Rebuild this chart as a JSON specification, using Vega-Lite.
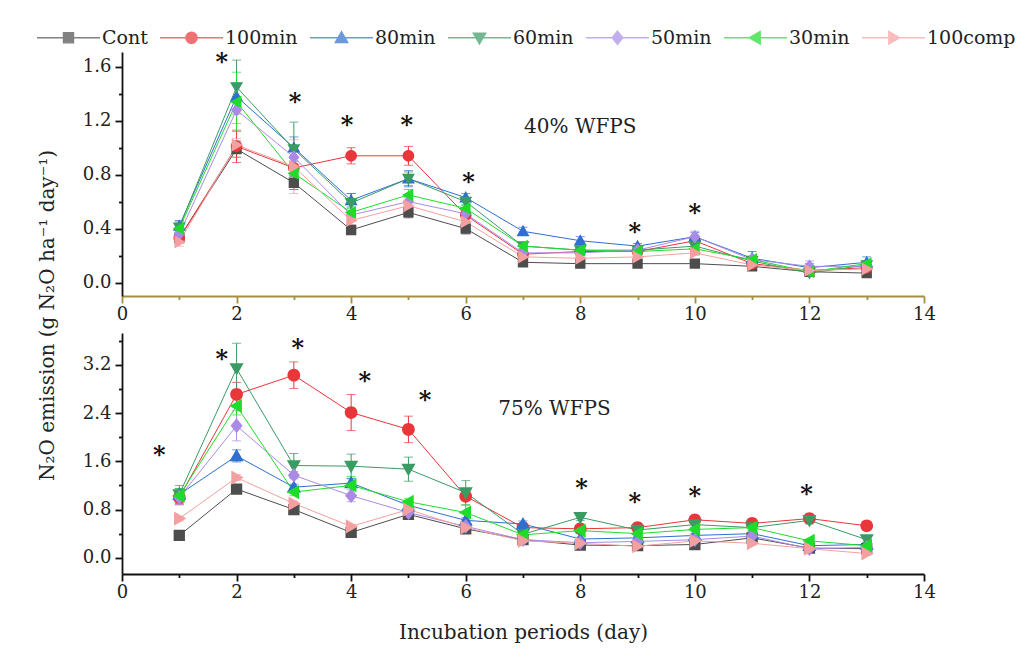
{
  "$schema": "https://vega.github.io/schema/vega-lite/v6.json",
  "background": "white",
  "padding": {"left": 36, "top": 5, "right": 4, "bottom": 4},
  "config": {
    "view": {"stroke": null},
    "font": "DejaVu Serif",
    "axis": {"labelFont": "DejaVu Serif", "labelFontSize": 18, "labelColor": "#222", "domainColor": "#111", "domainWidth": 1.8, "tickColor": "#111", "tickWidth": 1.8, "grid": false, "labelFlush": false, "labelOverlap": false, "titleFont": "DejaVu Serif", "titleFontWeight": "normal", "titleColor": "#222"},
    "legend": {"labelFont": "DejaVu Serif", "labelFontSize": 19, "labelColor": "#222"}
  },
  "datasets": {
    "wfps40": [
      {"day":1,"series":"Cont","value":0.33,"sd":0.03},{"day":2,"series":"Cont","value":0.99,"sd":0.06},{"day":3,"series":"Cont","value":0.74,"sd":0.05},{"day":4,"series":"Cont","value":0.39,"sd":0.03},{"day":5,"series":"Cont","value":0.52,"sd":0.04},{"day":6,"series":"Cont","value":0.40,"sd":0.04},{"day":7,"series":"Cont","value":0.15,"sd":0.02},{"day":8,"series":"Cont","value":0.14,"sd":0.02},{"day":9,"series":"Cont","value":0.14,"sd":0.02},{"day":10,"series":"Cont","value":0.14,"sd":0.02},{"day":11,"series":"Cont","value":0.12,"sd":0.02},{"day":12,"series":"Cont","value":0.08,"sd":0.02},{"day":13,"series":"Cont","value":0.07,"sd":0.02},
      {"day":1,"series":"100min","value":0.33,"sd":0.03},{"day":2,"series":"100min","value":1.01,"sd":0.12},{"day":3,"series":"100min","value":0.85,"sd":0.05},{"day":4,"series":"100min","value":0.94,"sd":0.06},{"day":5,"series":"100min","value":0.94,"sd":0.07},{"day":6,"series":"100min","value":0.50,"sd":0.03},{"day":7,"series":"100min","value":0.21,"sd":0.02},{"day":8,"series":"100min","value":0.23,"sd":0.02},{"day":9,"series":"100min","value":0.23,"sd":0.02},{"day":10,"series":"100min","value":0.31,"sd":0.03},{"day":11,"series":"100min","value":0.14,"sd":0.02},{"day":12,"series":"100min","value":0.09,"sd":0.02},{"day":13,"series":"100min","value":0.11,"sd":0.02},
      {"day":1,"series":"80min","value":0.42,"sd":0.04},{"day":2,"series":"80min","value":1.38,"sd":0.10},{"day":3,"series":"80min","value":1.00,"sd":0.08},{"day":4,"series":"80min","value":0.61,"sd":0.05},{"day":5,"series":"80min","value":0.77,"sd":0.06},{"day":6,"series":"80min","value":0.63,"sd":0.03},{"day":7,"series":"80min","value":0.38,"sd":0.03},{"day":8,"series":"80min","value":0.31,"sd":0.03},{"day":9,"series":"80min","value":0.27,"sd":0.02},{"day":10,"series":"80min","value":0.34,"sd":0.03},{"day":11,"series":"80min","value":0.18,"sd":0.05},{"day":12,"series":"80min","value":0.11,"sd":0.03},{"day":13,"series":"80min","value":0.15,"sd":0.04},
      {"day":1,"series":"60min","value":0.41,"sd":0.04},{"day":2,"series":"60min","value":1.45,"sd":0.20},{"day":3,"series":"60min","value":0.99,"sd":0.20},{"day":4,"series":"60min","value":0.59,"sd":0.07},{"day":5,"series":"60min","value":0.77,"sd":0.05},{"day":6,"series":"60min","value":0.60,"sd":0.03},{"day":7,"series":"60min","value":0.27,"sd":0.02},{"day":8,"series":"60min","value":0.24,"sd":0.02},{"day":9,"series":"60min","value":0.24,"sd":0.02},{"day":10,"series":"60min","value":0.27,"sd":0.02},{"day":11,"series":"60min","value":0.16,"sd":0.03},{"day":12,"series":"60min","value":0.07,"sd":0.02},{"day":13,"series":"60min","value":0.13,"sd":0.03},
      {"day":1,"series":"50min","value":0.36,"sd":0.03},{"day":2,"series":"50min","value":1.28,"sd":0.10},{"day":3,"series":"50min","value":0.93,"sd":0.06},{"day":4,"series":"50min","value":0.50,"sd":0.03},{"day":5,"series":"50min","value":0.60,"sd":0.03},{"day":6,"series":"50min","value":0.51,"sd":0.03},{"day":7,"series":"50min","value":0.22,"sd":0.02},{"day":8,"series":"50min","value":0.22,"sd":0.02},{"day":9,"series":"50min","value":0.24,"sd":0.02},{"day":10,"series":"50min","value":0.34,"sd":0.04},{"day":11,"series":"50min","value":0.17,"sd":0.03},{"day":12,"series":"50min","value":0.12,"sd":0.04},{"day":13,"series":"50min","value":0.12,"sd":0.03},
      {"day":1,"series":"30min","value":0.40,"sd":0.03},{"day":2,"series":"30min","value":1.34,"sd":0.22},{"day":3,"series":"30min","value":0.81,"sd":0.05},{"day":4,"series":"30min","value":0.52,"sd":0.03},{"day":5,"series":"30min","value":0.65,"sd":0.04},{"day":6,"series":"30min","value":0.55,"sd":0.03},{"day":7,"series":"30min","value":0.27,"sd":0.02},{"day":8,"series":"30min","value":0.24,"sd":0.02},{"day":9,"series":"30min","value":0.23,"sd":0.02},{"day":10,"series":"30min","value":0.25,"sd":0.02},{"day":11,"series":"30min","value":0.17,"sd":0.02},{"day":12,"series":"30min","value":0.08,"sd":0.02},{"day":13,"series":"30min","value":0.14,"sd":0.02},
      {"day":1,"series":"100comp","value":0.30,"sd":0.03},{"day":2,"series":"100comp","value":1.02,"sd":0.05},{"day":3,"series":"100comp","value":0.86,"sd":0.20},{"day":4,"series":"100comp","value":0.46,"sd":0.03},{"day":5,"series":"100comp","value":0.57,"sd":0.03},{"day":6,"series":"100comp","value":0.45,"sd":0.03},{"day":7,"series":"100comp","value":0.19,"sd":0.02},{"day":8,"series":"100comp","value":0.18,"sd":0.02},{"day":9,"series":"100comp","value":0.19,"sd":0.02},{"day":10,"series":"100comp","value":0.22,"sd":0.02},{"day":11,"series":"100comp","value":0.13,"sd":0.02},{"day":12,"series":"100comp","value":0.09,"sd":0.02},{"day":13,"series":"100comp","value":0.10,"sd":0.02}
    ],
    "wfps75": [
      {"day":1,"series":"Cont","value":0.37,"sd":0.03},{"day":2,"series":"Cont","value":1.14,"sd":0.04},{"day":3,"series":"Cont","value":0.80,"sd":0.04},{"day":4,"series":"Cont","value":0.42,"sd":0.03},{"day":5,"series":"Cont","value":0.72,"sd":0.04},{"day":6,"series":"Cont","value":0.48,"sd":0.03},{"day":7,"series":"Cont","value":0.30,"sd":0.03},{"day":8,"series":"Cont","value":0.21,"sd":0.03},{"day":9,"series":"Cont","value":0.20,"sd":0.03},{"day":10,"series":"Cont","value":0.22,"sd":0.03},{"day":11,"series":"Cont","value":0.33,"sd":0.03},{"day":12,"series":"Cont","value":0.16,"sd":0.03},{"day":13,"series":"Cont","value":0.15,"sd":0.03},
      {"day":1,"series":"100min","value":1.00,"sd":0.12},{"day":2,"series":"100min","value":2.71,"sd":0.20},{"day":3,"series":"100min","value":3.03,"sd":0.22},{"day":4,"series":"100min","value":2.41,"sd":0.30},{"day":5,"series":"100min","value":2.13,"sd":0.22},{"day":6,"series":"100min","value":1.02,"sd":0.06},{"day":7,"series":"100min","value":0.50,"sd":0.04},{"day":8,"series":"100min","value":0.48,"sd":0.05},{"day":9,"series":"100min","value":0.50,"sd":0.06},{"day":10,"series":"100min","value":0.63,"sd":0.05},{"day":11,"series":"100min","value":0.57,"sd":0.05},{"day":12,"series":"100min","value":0.65,"sd":0.05},{"day":13,"series":"100min","value":0.53,"sd":0.07},
      {"day":1,"series":"80min","value":1.05,"sd":0.10},{"day":2,"series":"80min","value":1.69,"sd":0.10},{"day":3,"series":"80min","value":1.17,"sd":0.05},{"day":4,"series":"80min","value":1.24,"sd":0.07},{"day":5,"series":"80min","value":0.87,"sd":0.05},{"day":6,"series":"80min","value":0.62,"sd":0.04},{"day":7,"series":"80min","value":0.56,"sd":0.05},{"day":8,"series":"80min","value":0.31,"sd":0.03},{"day":9,"series":"80min","value":0.33,"sd":0.03},{"day":10,"series":"80min","value":0.37,"sd":0.03},{"day":11,"series":"80min","value":0.40,"sd":0.03},{"day":12,"series":"80min","value":0.20,"sd":0.03},{"day":13,"series":"80min","value":0.22,"sd":0.03},
      {"day":1,"series":"60min","value":1.05,"sd":0.15},{"day":2,"series":"60min","value":3.14,"sd":0.42},{"day":3,"series":"60min","value":1.53,"sd":0.20},{"day":4,"series":"60min","value":1.52,"sd":0.20},{"day":5,"series":"60min","value":1.47,"sd":0.20},{"day":6,"series":"60min","value":1.08,"sd":0.20},{"day":7,"series":"60min","value":0.39,"sd":0.04},{"day":8,"series":"60min","value":0.67,"sd":0.05},{"day":9,"series":"60min","value":0.46,"sd":0.04},{"day":10,"series":"60min","value":0.55,"sd":0.05},{"day":11,"series":"60min","value":0.50,"sd":0.05},{"day":12,"series":"60min","value":0.62,"sd":0.06},{"day":13,"series":"60min","value":0.30,"sd":0.04},
      {"day":1,"series":"50min","value":1.00,"sd":0.12},{"day":2,"series":"50min","value":2.19,"sd":0.25},{"day":3,"series":"50min","value":1.37,"sd":0.06},{"day":4,"series":"50min","value":1.03,"sd":0.10},{"day":5,"series":"50min","value":0.75,"sd":0.04},{"day":6,"series":"50min","value":0.52,"sd":0.04},{"day":7,"series":"50min","value":0.30,"sd":0.03},{"day":8,"series":"50min","value":0.25,"sd":0.03},{"day":9,"series":"50min","value":0.27,"sd":0.03},{"day":10,"series":"50min","value":0.30,"sd":0.03},{"day":11,"series":"50min","value":0.36,"sd":0.03},{"day":12,"series":"50min","value":0.15,"sd":0.03},{"day":13,"series":"50min","value":0.17,"sd":0.03},
      {"day":1,"series":"30min","value":1.03,"sd":0.12},{"day":2,"series":"30min","value":2.52,"sd":0.15},{"day":3,"series":"30min","value":1.09,"sd":0.06},{"day":4,"series":"30min","value":1.20,"sd":0.15},{"day":5,"series":"30min","value":0.93,"sd":0.05},{"day":6,"series":"30min","value":0.75,"sd":0.12},{"day":7,"series":"30min","value":0.38,"sd":0.03},{"day":8,"series":"30min","value":0.45,"sd":0.04},{"day":9,"series":"30min","value":0.40,"sd":0.04},{"day":10,"series":"30min","value":0.47,"sd":0.04},{"day":11,"series":"30min","value":0.50,"sd":0.04},{"day":12,"series":"30min","value":0.28,"sd":0.03},{"day":13,"series":"30min","value":0.20,"sd":0.03},
      {"day":1,"series":"100comp","value":0.65,"sd":0.04},{"day":2,"series":"100comp","value":1.33,"sd":0.05},{"day":3,"series":"100comp","value":0.90,"sd":0.04},{"day":4,"series":"100comp","value":0.52,"sd":0.03},{"day":5,"series":"100comp","value":0.80,"sd":0.04},{"day":6,"series":"100comp","value":0.50,"sd":0.03},{"day":7,"series":"100comp","value":0.28,"sd":0.03},{"day":8,"series":"100comp","value":0.24,"sd":0.03},{"day":9,"series":"100comp","value":0.19,"sd":0.03},{"day":10,"series":"100comp","value":0.28,"sd":0.03},{"day":11,"series":"100comp","value":0.24,"sd":0.03},{"day":12,"series":"100comp","value":0.15,"sd":0.03},{"day":13,"series":"100comp","value":0.07,"sd":0.03}
    ],
    "stars40": [{"day":1.74,"value":1.68},{"day":3.02,"value":1.38},{"day":3.93,"value":1.21},{"day":4.97,"value":1.21},{"day":6.05,"value":0.79},{"day":8.95,"value":0.42},{"day":10.0,"value":0.56}],
    "stars75": [{"day":0.65,"value":1.80},{"day":1.74,"value":3.39},{"day":3.07,"value":3.58},{"day":4.24,"value":3.03},{"day":5.29,"value":2.71},{"day":8.02,"value":1.25},{"day":8.95,"value":1.02},{"day":10.0,"value":1.12},{"day":11.95,"value":1.15}],
    "label40": [{"day":8.0,"value":1.15,"label":"40% WFPS"}],
    "label75": [{"day":7.55,"value":2.47,"label":"75% WFPS"}]
  },
  "spacing": 37,
  "bounds": "flush",
  "resolve": {"scale": {"y": "independent"}},
  "vconcat": [
    {
      "width": 802,
      "height": 244,
      "encoding": {
        "x": {"field": "day", "type": "quantitative", "scale": {"domain": [0, 14], "nice": false},
          "axis": {"title": null, "values": [0,1,2,3,4,5,6,7,8,9,10,11,12,13,14], "labelExpr": "datum.value % 2 ? '' : datum.label", "tickSize": {"condition": {"test": "datum.value % 2 !== 0", "value": 3.5}, "value": 7}, "domainColor": "#a39040", "tickColor": "#a39040", "labelPadding": 2}},
        "y": {"field": "value", "type": "quantitative", "scale": {"domain": [-0.1, 1.71], "nice": false, "zero": false},
          "axis": {"title": "N₂O emission (g N₂O ha⁻¹ day⁻¹)", "titleFontSize": 20, "titleX": -75, "titleY": 263, "titleAngle": 270, "titleAlign": "center", "titleBaseline": "middle", "values": [0,0.2,0.4,0.6,0.8,1.0,1.2,1.4,1.6], "labelExpr": "round(datum.value*10) % 4 ? '' : format(datum.value, '.1f')", "tickSize": {"condition": {"test": "round(datum.value*10) % 4 !== 0", "value": 3.5}, "value": 7}, "labelPadding": 4}}
      },
      "layer": [
        {"data": {"name": "wfps40"}, "mark": {"type": "errorbar", "ticks": {"size": 9}, "thickness": 1},
          "encoding": {"yError": {"field": "sd"}, "color": {"field": "series", "type": "nominal"}}},
        {"data": {"name": "wfps40"}, "mark": {"type": "line", "strokeWidth": 1},
          "encoding": {"color": {"field": "series", "type": "nominal"}}},
        {"data": {"name": "wfps40"}, "mark": {"type": "point", "filled": true, "opacity": 1, "size": 4200},
          "encoding": {
            "color": {"field": "series", "type": "nominal",
              "scale": {"domain": ["Cont","100min","80min","60min","50min","30min","100comp"], "range": ["#4d4d4d","#e8363a","#2f6fd0","#3a9b63","#a98be6","#1fdc2a","#f5a0a0"]},
              "legend": {"orient": "none", "legendX": -86, "legendY": -47, "direction": "horizontal", "title": null, "symbolSize": 3969, "labelOffset": 1, "columnPadding": 9, "symbolStrokeWidth": 1.3,
                "encode": {"symbols": {"update": {"stroke": {"scale": "color", "field": "value"}, "strokeWidth": {"value": 1.3}, "strokeOpacity": {"value": 1}}}}}},
            "shape": {"field": "series", "type": "nominal",
              "scale": {"domain": ["Cont","100min","80min","60min","50min","30min","100comp"],
                "range": ["M-1,0H1M-0.16,-0.16H0.16V0.16H-0.16Z",
                          "M-1,0H1M0.18,0A0.18,0.18,0,1,1,-0.18,0A0.18,0.18,0,1,1,0.18,0Z",
                          "M-1,0H1M0,-0.2L0.2,0.15H-0.2Z",
                          "M-1,0H1M0,0.2L0.2,-0.15H-0.2Z",
                          "M-1,0H1M0,-0.21L0.17,0L0,0.21L-0.17,0Z",
                          "M-1,0H1M-0.2,0L0.15,-0.2V0.2Z",
                          "M-1,0H1M0.2,0L-0.15,-0.2V0.2Z"]},
              "legend": {"orient": "none", "legendX": -86, "legendY": -47, "direction": "horizontal", "title": null, "symbolSize": 3969, "labelOffset": 1, "columnPadding": 9}}
          }},
        {"data": {"name": "stars40"}, "mark": {"type": "text", "text": "*", "fontSize": 24, "fontWeight": "bold", "baseline": "alphabetic", "dy": 14, "color": "#111"}},
        {"data": {"name": "label40"}, "mark": {"type": "text", "fontSize": 20, "color": "#222"}, "encoding": {"text": {"field": "label"}}}
      ]
    },
    {
      "width": 802,
      "height": 241,
      "encoding": {
        "x": {"field": "day", "type": "quantitative", "scale": {"domain": [0, 14], "nice": false},
          "axis": {"title": "Incubation periods (day)", "titleFontSize": 20, "titlePadding": 21, "values": [0,1,2,3,4,5,6,7,8,9,10,11,12,13,14], "labelExpr": "datum.value % 2 ? '' : datum.label", "tickSize": {"condition": {"test": "datum.value % 2 !== 0", "value": 3.5}, "value": 7}, "labelPadding": 2}},
        "y": {"field": "value", "type": "quantitative", "scale": {"domain": [-0.27, 3.73], "nice": false, "zero": false},
          "axis": {"title": null, "values": [0,0.4,0.8,1.2,1.6,2.0,2.4,2.8,3.2,3.6], "labelExpr": "round(datum.value*10) % 8 ? '' : format(datum.value, '.1f')", "tickSize": {"condition": {"test": "round(datum.value*10) % 8 !== 0", "value": 3.5}, "value": 7}, "labelPadding": 4}}
      },
      "layer": [
        {"data": {"name": "wfps75"}, "mark": {"type": "errorbar", "ticks": {"size": 9}, "thickness": 1},
          "encoding": {"yError": {"field": "sd"}, "color": {"field": "series", "type": "nominal"}}},
        {"data": {"name": "wfps75"}, "mark": {"type": "line", "strokeWidth": 1},
          "encoding": {"color": {"field": "series", "type": "nominal"}}},
        {"data": {"name": "wfps75"}, "mark": {"type": "point", "filled": true, "opacity": 1, "size": 5000},
          "encoding": {
            "color": {"field": "series", "type": "nominal"},
            "shape": {"field": "series", "type": "nominal"}
          }},
        {"data": {"name": "stars75"}, "mark": {"type": "text", "text": "*", "fontSize": 24, "fontWeight": "bold", "baseline": "alphabetic", "dy": 14, "color": "#111"}},
        {"data": {"name": "label75"}, "mark": {"type": "text", "fontSize": 20, "color": "#222"}, "encoding": {"text": {"field": "label"}}}
      ]
    }
  ]
}
